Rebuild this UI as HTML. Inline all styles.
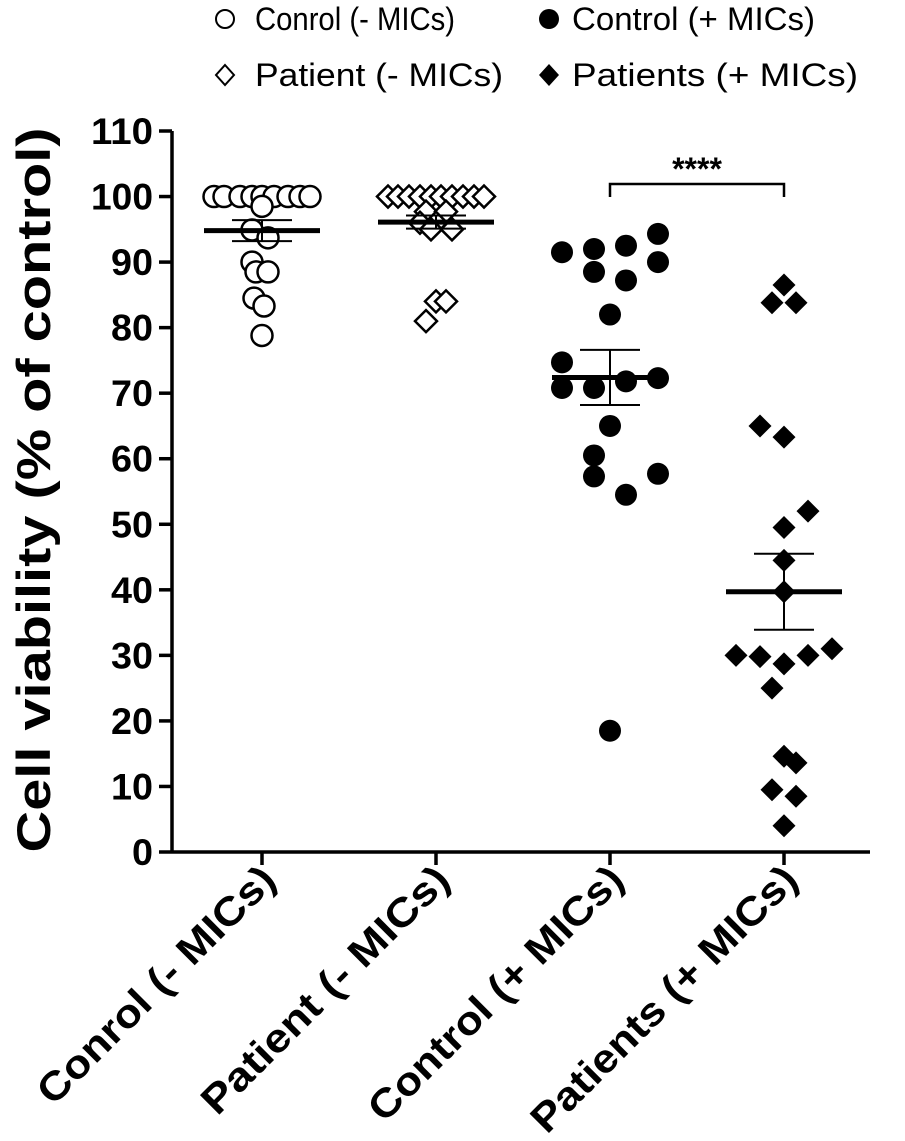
<!DOCTYPE html>
<html><head><meta charset="utf-8"><style>
body{margin:0;background:#fff;}
svg{display:block;font-family:"Liberation Sans",Arial,sans-serif;}
</style></head><body>
<svg id="chart" width="905" height="1141">
<g id="legend" font-size="32">
 <g><circle cx="225" cy="19" r="9" fill="#fff" stroke="#000" stroke-width="2"/><text x="255" y="30" textLength="200" lengthAdjust="spacingAndGlyphs">Conrol (- MICs)</text></g>
 <g><circle cx="549" cy="19" r="10" fill="#000"/><text x="572" y="30" textLength="243" lengthAdjust="spacingAndGlyphs">Control (+ MICs)</text></g>
 <g><path d="M225 65 l9 10 l-9 10 l-9 -10z" fill="#fff" stroke="#000" stroke-width="2"/><text x="255" y="86" textLength="248" lengthAdjust="spacingAndGlyphs">Patient (- MICs)</text></g>
 <g><path d="M549 64 l10 11 l-10 11 l-10 -11z" fill="#000"/><text x="572" y="86" textLength="286" lengthAdjust="spacingAndGlyphs">Patients (+ MICs)</text></g>
</g>
<text transform="translate(50,490) rotate(-90)" text-anchor="middle" font-size="47" font-weight="bold" textLength="725" lengthAdjust="spacingAndGlyphs">Cell viability (% of control)</text>
<g id="axes"></g>
<g id="marks"></g>
</svg>
<script>
const categories=["Conrol (- MICs)","Patient (- MICs)","Control (+ MICs)","Patients (+ MICs)"];
const yTicks=[0,10,20,30,40,50,60,70,80,90,100,110];
const ctrlMinus=[100,100,100,100,100,100,100,100,100,98.5,94.9,93.7,90,88.5,88.5,84.5,83.3,78.8];
const ctrlMinusDx=[-48,-38,-22,-10,0,12,26,38,48,0,-10,6,-10,-6,6,-8,2,0];
const patMinus=[100,100,100,100,100,100,100,100,100,100,97.7,97.7,96,96,95,95,84,84,81];
const patMinusDx=[-48,-38,-27,-16,-5,5,16,27,38,48,-10,10,-16,0,-5,16,0,10,-10];
const ctrlPlus=[91.5,92,92.5,94.3,90,87.2,88.5,82,74.7,72.3,70.8,70.8,71.8,65,60.5,57.3,57.7,54.5,18.5];
const ctrlPlusDx=[-48,-16,16,48,48,16,-16,0,-48,48,-48,-16,16,0,-16,-16,48,16,0];
const patPlus=[86.5,83.8,83.8,65,63.3,52,49.5,44.5,39.7,31,30,29.8,28.7,30,25,14.6,13.6,9.5,8.5,4];
const patPlusDx=[0,-12,12,-24,0,24,0,0,0,48,-48,-24,0,24,-12,0,12,-12,12,0];
const means=[94.8,96.1,72.4,39.7];
const sems=[1.6,1.0,4.2,5.8];
const sigLabel="****";

const NS="http://www.w3.org/2000/svg";
const y0=852,yTop=131,x0=172;
const yS=v=>y0-(v/110)*(y0-yTop);
const xS=i=>262+i*174;
const labelLen=[318,332,342,358];
function mk(t,a,p){const e=document.createElementNS(NS,t);for(const k in a)e.setAttribute(k,a[k]);p.appendChild(e);return e;}
const ax=document.getElementById('axes'),mg=document.getElementById('marks');
const yl=mk('line',{x1:x0,y1:yTop,x2:x0,y2:y0,stroke:'#000','stroke-width':3.5},ax);


const xl=mk('line',{x1:x0,y1:y0,x2:870,y2:y0,stroke:'#000','stroke-width':3.5},ax);


yTicks.forEach(v=>{
 mk('line',{x1:x0-13,y1:yS(v),x2:x0,y2:yS(v),stroke:'#000','stroke-width':3.5},ax);
 const t=mk('text',{x:x0-19,y:yS(v)+13,'text-anchor':'end','font-size':37,'font-weight':'bold',textLength:v>=100?62:(v>0?42:21),lengthAdjust:'spacingAndGlyphs'},ax);
 t.textContent=v;
 
 
});
categories.forEach((c,i)=>{
 mk('line',{x1:xS(i),y1:y0,x2:xS(i),y2:y0+13,stroke:'#000','stroke-width':3.5},ax);
 const t=mk('text',{transform:`translate(${xS(i)+16},${y0+30}) rotate(-45)`,'text-anchor':'end','font-size':40,'font-weight':'bold',textLength:labelLen[i],lengthAdjust:'spacingAndGlyphs'},ax);
 t.textContent=c;
 
 
});
function pts(vals,dx,i,shape,fill){
 vals.forEach((v,k)=>{
  const x=xS(i)+dx[k],y=yS(v);let e;
  if(shape==='c'){e=mk('circle',{cx:x,cy:y,r:fill?11:10.5,fill:fill?'#000':'#fff',stroke:'#000','stroke-width':fill?0:2.5},mg);}
  else{const r=fill?11.5:11;e=mk('path',{d:`M${x} ${y-r} L${x+r} ${y} L${x} ${y+r} L${x-r} ${y}Z`,fill:fill?'#000':'#fff',stroke:'#000','stroke-width':fill?0:2.5},mg);}
  
  
 });
}
function meanBar(i){
 const x=xS(i),m=yS(means[i]),hi=yS(means[i]+sems[i]),lo=yS(means[i]-sems[i]);
 const g=mk('g',{stroke:'#000'},mg);
 
 
 mk('line',{x1:x-58,y1:m,x2:x+58,y2:m,'stroke-width':5},g);
 mk('line',{x1:x,y1:hi,x2:x,y2:lo,'stroke-width':2},g);
 mk('line',{x1:x-30,y1:hi,x2:x+30,y2:hi,'stroke-width':2},g);
 mk('line',{x1:x-30,y1:lo,x2:x+30,y2:lo,'stroke-width':2},g);
}
pts(ctrlMinus,ctrlMinusDx,0,'c',false);meanBar(0);
pts(patMinus,patMinusDx,1,'d',false);meanBar(1);
pts(ctrlPlus,ctrlPlusDx,2,'c',true);meanBar(2);
pts(patPlus,patPlusDx,3,'d',true);meanBar(3);
const br=mk('path',{d:`M${xS(2)} 197 V184 H${xS(3)} V197`,fill:'none',stroke:'#000','stroke-width':2.5},mg);


const st=mk('text',{x:(xS(2)+xS(3))/2,y:180,'text-anchor':'middle','font-size':32,'font-weight':'bold'},mg);
st.textContent=sigLabel;


</script>
</body></html>
